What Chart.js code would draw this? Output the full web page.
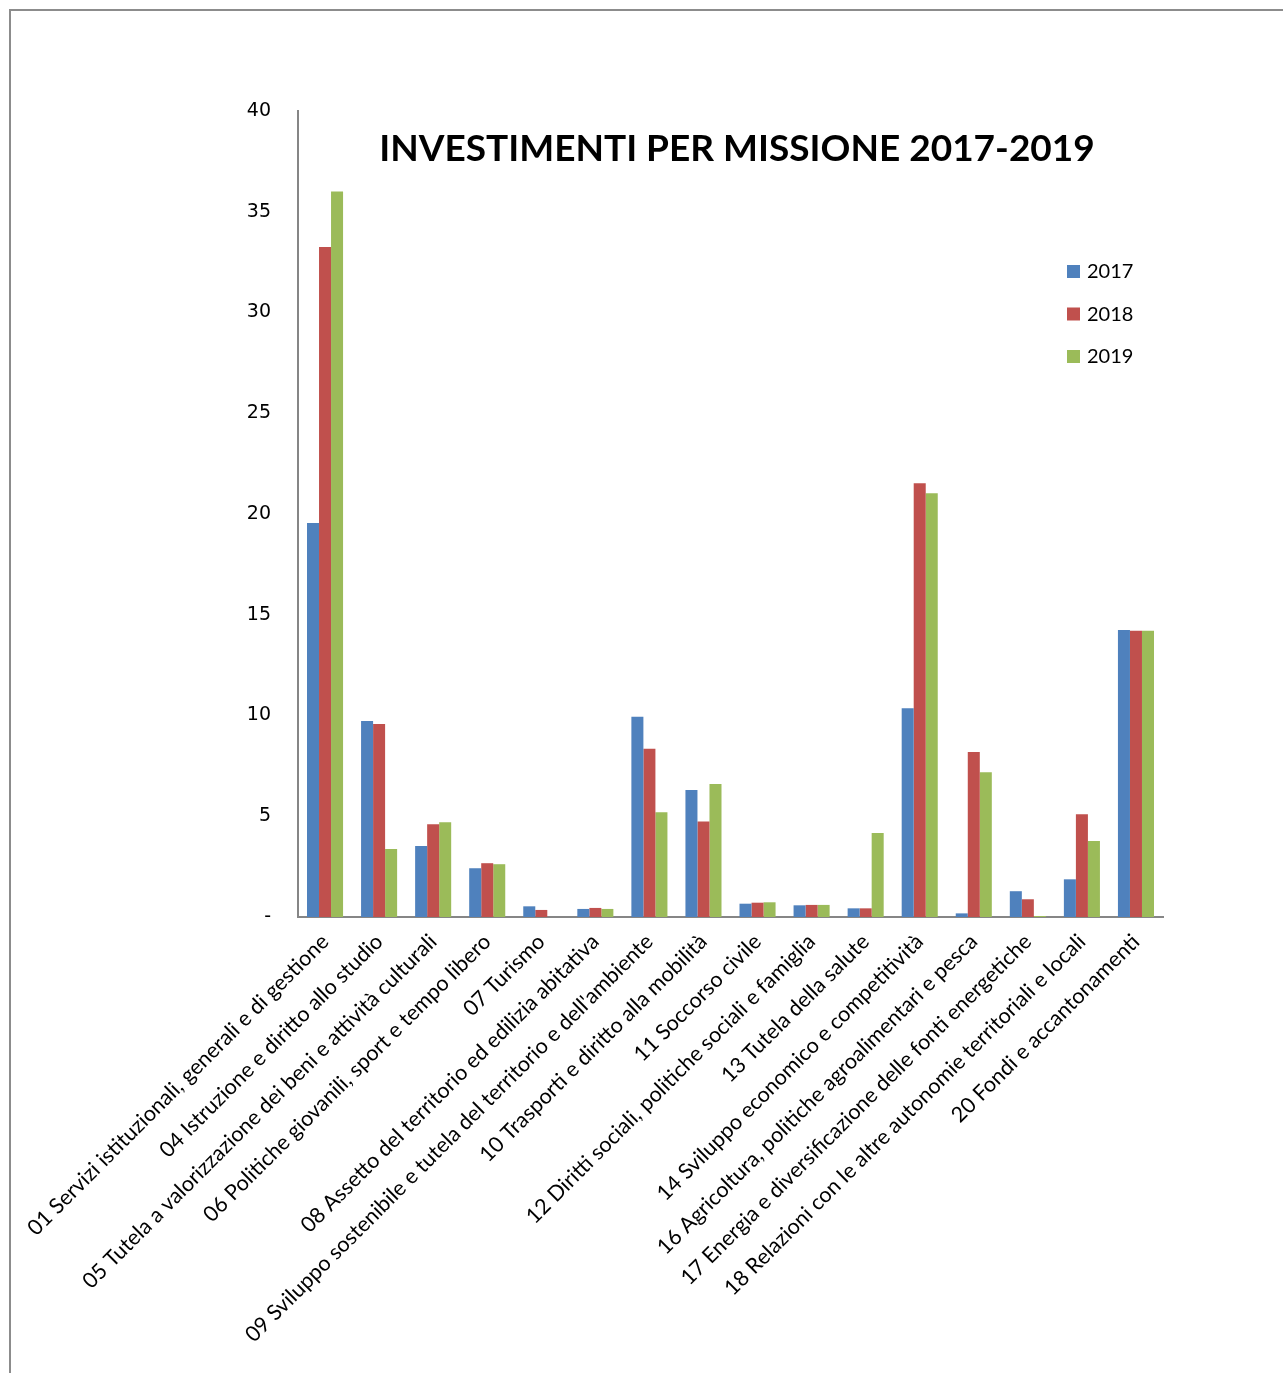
<!DOCTYPE html>
<html>
<head>
<meta charset="utf-8">
<script src="https://cdn.jsdelivr.net/npm/chart.js@4.4.0/dist/chart.umd.min.js"></script>
<style>
  body { margin: 0; background: #fff; }
  #frame {
    position: absolute; left: 9px; top: 9px; width: 1280px; height: 1370px;
    border-top: 2px solid #8c8c8c; border-left: 2px solid #8c8c8c;
  }
  #wrap { position: absolute; left: 0; top: 0; width: 1283px; height: 1373px; }
</style>
</head>
<body>
<div id="frame"></div>
<div id="wrap"><canvas id="missionChart"></canvas></div>
<script>
// Chart data
const categories = [
  "01 Servizi istituzionali, generali e di gestione",
  "04 Istruzione e diritto allo studio",
  "05 Tutela a valorizzazione dei beni e attività culturali",
  "06 Politiche giovanili, sport e tempo libero",
  "07 Turismo",
  "08 Assetto del territorio ed edilizia abitativa",
  "09 Sviluppo sostenibile e tutela del territorio e dell'ambiente",
  "10 Trasporti e diritto alla mobilità",
  "11 Soccorso civile",
  "12 Diritti sociali, politiche sociali e famiglia",
  "13 Tutela della salute",
  "14 Sviluppo economico e competitività",
  "16 Agricoltura, politiche agroalimentari e pesca",
  "17 Energia e diversificazione delle fonti energetiche",
  "18 Relazioni con le altre autonomie territoriali e locali",
  "20 Fondi e accantonamenti",
];
const values2017 = [19.55, 9.73, 3.52, 2.42, 0.53, 0.4, 9.94, 6.3, 0.66, 0.58, 0.43, 10.36, 0.18, 1.28, 1.87, 14.24];
const values2018 = [33.25, 9.58, 4.6, 2.67, 0.35, 0.45, 8.35, 4.74, 0.71, 0.6, 0.43, 21.52, 8.19, 0.88, 5.1, 14.2];
const values2019 = [36.0, 3.37, 4.7, 2.62, 0, 0.4, 5.2, 6.6, 0.73, 0.6, 4.17, 21.03, 7.18, 0.05, 3.77, 14.2];
const seriesLabels = ["2017", "2018", "2019"];
const yTicks = [0, 5, 10, 15, 20, 25, 30, 35, 40];
const chartTitle = "INVESTIMENTI PER MISSIONE 2017-2019";

const seriesColors = ["#4F81BD", "#C0504D", "#9BBB59"];

// Title drawn inside the plot area
const titlePlugin = {
  id: "insideTitle",
  afterDraw(chart) {
    const ctx = chart.ctx;
    ctx.save();
    ctx.font = "bold 37px Lato";
    ctx.fillStyle = "#000";
    ctx.textAlign = "center";
    ctx.textBaseline = "middle";
    ctx.fillText(chartTitle, 737, 149);
    ctx.restore();
  },
};

// Legend drawn inside the plot area, right side
const legendPlugin = {
  id: "insideLegend",
  afterDraw(chart) {
    const ctx = chart.ctx;
    ctx.save();
    ctx.font = "20px Lato";
    ctx.textBaseline = "middle";
    chart.data.datasets.forEach((ds, i) => {
      const y = 271 + i * 42.5;
      ctx.fillStyle = ds.backgroundColor;
      ctx.fillRect(1067, y - 6, 13, 13);
      ctx.fillStyle = "#000";
      ctx.fillText(ds.label, 1087, y + 1);
    });
    ctx.restore();
  },
};

const datasets = [values2017, values2018, values2019].map((vals, i) => ({
  label: seriesLabels[i],
  data: vals,
  backgroundColor: seriesColors[i],
  borderWidth: 0,
  categoryPercentage: 0.667,
  barPercentage: 1.0,
}));

new Chart(document.getElementById("missionChart"), {
  type: "bar",
  data: { labels: categories, datasets: datasets },
  options: {
    responsive: true,
    maintainAspectRatio: false,
    animation: false,
    layout: { padding: { top: 111, right: 120, left: 0, bottom: 0 } },
    plugins: {
      legend: { display: false },
      title: { display: false },
      tooltip: { enabled: false },
    },
    scales: {
      x: {
        grid: { display: false, drawTicks: false },
        border: { display: true, color: "#868686", width: 2 },
        ticks: {
          autoSkip: false,
          maxRotation: 45,
          minRotation: 45,
          padding: 12,
          color: "#000",
          font: { family: "Lato", size: 21.5 },
        },
        afterFit(scale) {
          scale.height = 456;
          scale.paddingLeft = 0;
          scale.paddingRight = 0;
        },
      },
      y: {
        min: 0,
        max: 40,
        afterBuildTicks(scale) {
          scale.ticks = yTicks.map((v) => ({ value: v }));
        },
        grid: { display: false, drawTicks: false },
        border: { display: true, color: "#868686", width: 2 },
        ticks: {
          padding: 27,
          color: "#000",
          font: { family: "DejaVu Sans", size: 19 },
          callback: (v) => (v === 0 ? "-" : v),
        },
        afterFit(scale) {
          scale.width = 298;
        },
      },
    },
  },
  plugins: [titlePlugin, legendPlugin],
});
</script>
</body>
</html>
